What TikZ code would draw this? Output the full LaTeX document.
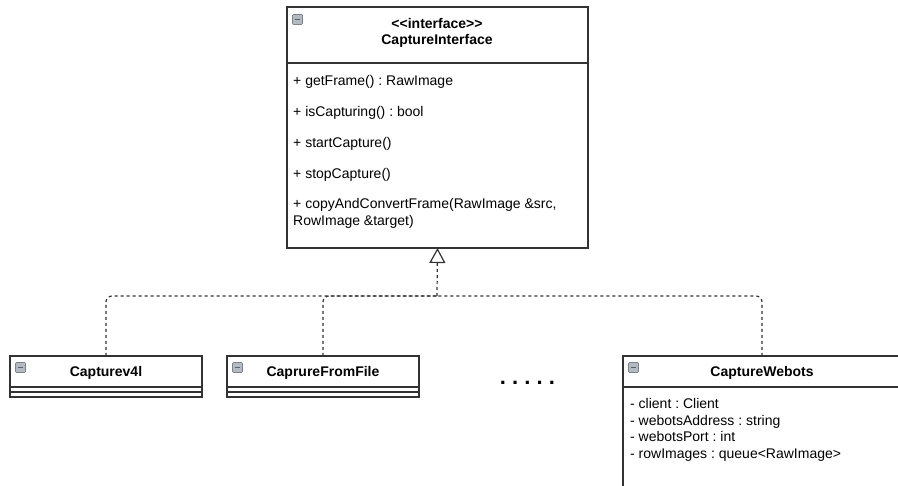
\documentclass[tikz,border=0pt]{standalone}
\usepackage{fontspec}
\setmainfont[Ligatures=NoCommon]{Liberation Sans}
\usetikzlibrary{arrows.meta,calc}
\frenchspacing

\definecolor{edge}{HTML}{333333}
\definecolor{iconfill}{HTML}{B4BAC1}
\definecolor{icondark}{HTML}{5A636D}

\tikzset{
  classbox/.style={draw=edge, line width=1.2pt, fill=white, inner sep=0pt,
    outer sep=0pt, anchor=north west},
  sepline/.style={draw=edge, line width=1.2pt},
  label/.style={inner sep=0pt, anchor=base west, font=\fontsize{14}{16}\selectfont},
  title/.style={inner sep=0pt, anchor=base, font=\fontsize{14}{16}\selectfont\bfseries},
  realize/.style={draw=edge, line width=1.2pt, dash pattern=on 3pt off 3pt,
    rounded corners=6pt},
  collapse/.pic={
    \filldraw[fill=iconfill, draw=icondark!80, line width=0.7pt, rounded corners=1pt]
      (0,0) rectangle (10,10);
    \draw[icondark, line width=1.6pt] (2.2,5) -- (7.8,5);
  }
}

\begin{document}
\begin{tikzpicture}[x=1pt, y=-1pt]
\useasboundingbox (0,0) rectangle (898,486);

% interface
\node[classbox, minimum width=301pt, minimum height=241pt] (iface) at (287,7) {};
\draw[sepline] (287,63) -- (588,63);
\pic at (292.5,14.5) {collapse};
\node[title] (ifstereo) at (437,28.5) {<{}<interface>{}>};
\node[title] (ifname) at (437,45) {CaptureInterface};
\node[label] (m1) at (293,86) {+ getFrame() : RawImage};
\node[label] (m2) at (293,117) {+ isCapturing() : bool};
\node[label] (m3) at (293,148) {+ startCapture()};
\node[label] (m4) at (293,178.5) {+ stopCapture()};
\node[label] (m5) at (293,209) {+ copyAndConvertFrame(RawImage \&src,};
\node[label] (m6) at (293,225.5) {RowImage \&target)};

% Capturev4l
\node[classbox, minimum width=192pt, minimum height=41pt] (v4l) at (10,356) {};
\draw[sepline] (10,387) -- (202,387);
\draw[sepline] (10,392) -- (202,392);
\pic at (15.5,362.5) {collapse};
\node[title] (v4lname) at (106,376.7) {Capturev4l};

% CaprureFromFile
\node[classbox, minimum width=192pt, minimum height=41pt] (file) at (227,356) {};
\draw[sepline] (227,387) -- (419,387);
\draw[sepline] (227,392) -- (419,392);
\pic at (232.5,362.5) {collapse};
\node[title] (filename) at (323,376.7) {CaprureFromFile};

% CaptureWebots
\node[classbox, minimum width=278pt, minimum height=150pt] (webots) at (623,356) {};
\draw[sepline] (623,387) -- (901,387);
\pic at (628.5,362.5) {collapse};
\node[title] (webotsname) at (762,376.7) {CaptureWebots};
\node[label] (a1) at (630,409) {- client : Client};
\node[label] (a2) at (630,425.5) {- webotsAddress : string};
\node[label] (a3) at (630,442) {- webotsPort : int};
\node[label] (a4) at (630,458.5) {- rowImages : queue<RawImage>};

% more implementations
\node[inner sep=0pt, anchor=base, font=\fontsize{22}{22}\selectfont\bfseries] (more) at (527.5,385) {. . . . .};

% realization connectors
\coordinate (junction) at (437,296);
\draw[realize, -{Triangle[open, length=15pt, width=16pt]}] (junction) -- (iface.south);
\draw[realize] (v4l.north) |- (junction);
\draw[realize] (file.north) |- (junction);
\draw[realize] (webots.north) |- (junction);
\end{tikzpicture}
\end{document}
